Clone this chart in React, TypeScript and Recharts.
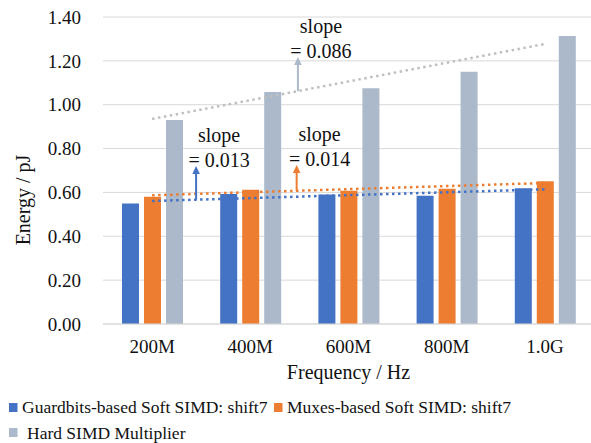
import React from 'react';
import { BarChart, Bar, XAxis, YAxis, CartesianGrid, ReferenceLine } from 'recharts';

const categories = ['200M', '400M', '600M', '800M', '1.0G'];
const guardbits = [0.55, 0.593, 0.591, 0.585, 0.619];
const muxes = [0.58, 0.612, 0.608, 0.617, 0.651];
const hardSimd = [0.93, 1.058, 1.075, 1.15, 1.313];
const yTicks = [0, 0.2, 0.4, 0.6, 0.8, 1.0, 1.2, 1.4];
// trend line values at first and last category
const trendGuardbits = [0.561, 0.614];
const trendMuxes = [0.587, 0.643];
const trendHard = [0.935, 1.277];
const slopeLabels = ['0.013', '0.014', '0.086'];
const seriesNames = ['Guardbits-based Soft SIMD: shift7', 'Muxes-based Soft SIMD: shift7', 'Hard SIMD Multiplier'];

const COLORS = { g: '#4472C4', m: '#ED7D31', h: '#ACB9CA', ht: '#BFBFBF' };
const FONT = "'Liberation Serif', 'Times New Roman', serif";

const W = 600;
const H = 443;
const M = { top: 17, right: 6, bottom: 53, left: 0 };
const Y_W = 103;
const X_H = 66;
const plotL = M.left + Y_W;
const plotT = M.top;
const plotW = W - M.right - plotL;
const plotH = H - M.bottom - X_H - plotT;
const band = plotW / categories.length;
const xAt = (i: number) => plotL + band * (i + 0.5);
const yAt = (v: number) => plotT + ((1.4 - v) / 1.4) * plotH;

const annotations = [
  { label: slopeLabels[0], color: COLORS.g, trend: trendGuardbits, arrowAt: 0.448, tip: 0.72 },
  { label: slopeLabels[1], color: COLORS.m, trend: trendMuxes, arrowAt: 1.472, tip: 0.725 },
  { label: slopeLabels[2], color: COLORS.h, trend: trendHard, arrowAt: 1.485, tip: 1.2175 },
];

export default function App() {
  const data = categories.map((c, i) => ({ name: c, g: guardbits[i], m: muxes[i], h: hardSimd[i] }));
  const last = categories[categories.length - 1];
  const first = categories[0];
  const trendProps = { strokeWidth: 2.5, strokeDasharray: '2.5 3.5', ifOverflow: 'visible' as const };
  return (
    <div style={{ position: 'absolute', left: 0, top: 0, width: W, height: H, fontFamily: FONT }}>
      <BarChart width={W} height={H} data={data} margin={M} barSize={17} barGap={5}>
        <CartesianGrid vertical={false} stroke="#d9d9d9" />
        <XAxis
          dataKey="name"
          height={X_H}
          interval={0}
          tickLine={false}
          tickSize={0}
          tickMargin={16}
          axisLine={{ stroke: '#d9d9d9' }}
          tick={{ fill: '#111', fontSize: 19, fontFamily: FONT }}
        />
        <YAxis
          width={Y_W}
          domain={[0, 1.4]}
          ticks={yTicks}
          tickFormatter={(v: number) => v.toFixed(2)}
          axisLine={false}
          tickLine={false}
          tickSize={0}
          tickMargin={22}
          tick={{ fill: '#111', fontSize: 19, fontFamily: FONT }}
        />
        <ReferenceLine segment={[{ x: first, y: trendHard[0] }, { x: last, y: trendHard[1] }]} stroke={COLORS.ht} {...trendProps} />
        <ReferenceLine segment={[{ x: first, y: trendMuxes[0] }, { x: last, y: trendMuxes[1] }]} stroke={COLORS.m} {...trendProps} />
        <ReferenceLine segment={[{ x: first, y: trendGuardbits[0] }, { x: last, y: trendGuardbits[1] }]} stroke={COLORS.g} {...trendProps} />
        <Bar dataKey="g" fill={COLORS.g} isAnimationActive={false} />
        <Bar dataKey="m" fill={COLORS.m} isAnimationActive={false} />
        <Bar dataKey="h" fill={COLORS.h} isAnimationActive={false} />
      </BarChart>
      <svg style={{ position: 'absolute', left: 0, top: 0, pointerEvents: 'none' }} width={W} height={H}>
        {annotations.map((a, k) => {
          const x = plotL + band * (a.arrowAt + 0.5);
          const baseV = a.trend[0] + ((a.trend[1] - a.trend[0]) * a.arrowAt) / (categories.length - 1);
          const y0 = yAt(baseV);
          const y1 = yAt(a.tip);
          const tx = x + 23;
          return (
            <g key={k}>
              <line x1={x} y1={y0} x2={x} y2={y1 + 7} stroke={a.color} strokeWidth={2} />
              <polygon points={`${x - 3.8},${y1 + 8} ${x + 3.8},${y1 + 8} ${x},${y1}`} fill={a.color} />
              <text x={tx} y={y1 - 24} textAnchor="middle" fontSize={20} fontFamily={FONT} fill="#111">slope</text>
              <text x={tx} y={y1 + 1} textAnchor="middle" fontSize={20} fontFamily={FONT} fill="#111">= {a.label}</text>
            </g>
          );
        })}
        <text x={plotL + plotW / 2} y={378.5} textAnchor="middle" fontSize={20} fontFamily={FONT} fill="#111">Frequency / Hz</text>
        <text transform={`translate(23, 200) rotate(-90)`} textAnchor="middle" dominantBaseline="central" fontSize={20} fontFamily={FONT} fill="#111">Energy / pJ</text>
        <rect x={9} y={403} width={8.5} height={9} fill={COLORS.g} />
        <text x={22} y={413} fontSize={17.5} fontFamily={FONT} fill="#111">{seriesNames[0]}</text>
        <rect x={274} y={403} width={8.5} height={9} fill={COLORS.m} />
        <text x={287} y={413} fontSize={17.5} fontFamily={FONT} fill="#111">{seriesNames[1]}</text>
        <rect x={9} y={428} width={8.5} height={9} fill={COLORS.h} />
        <text x={27} y={439} fontSize={17.5} fontFamily={FONT} fill="#111">{seriesNames[2]}</text>
      </svg>
    </div>
  );
}
